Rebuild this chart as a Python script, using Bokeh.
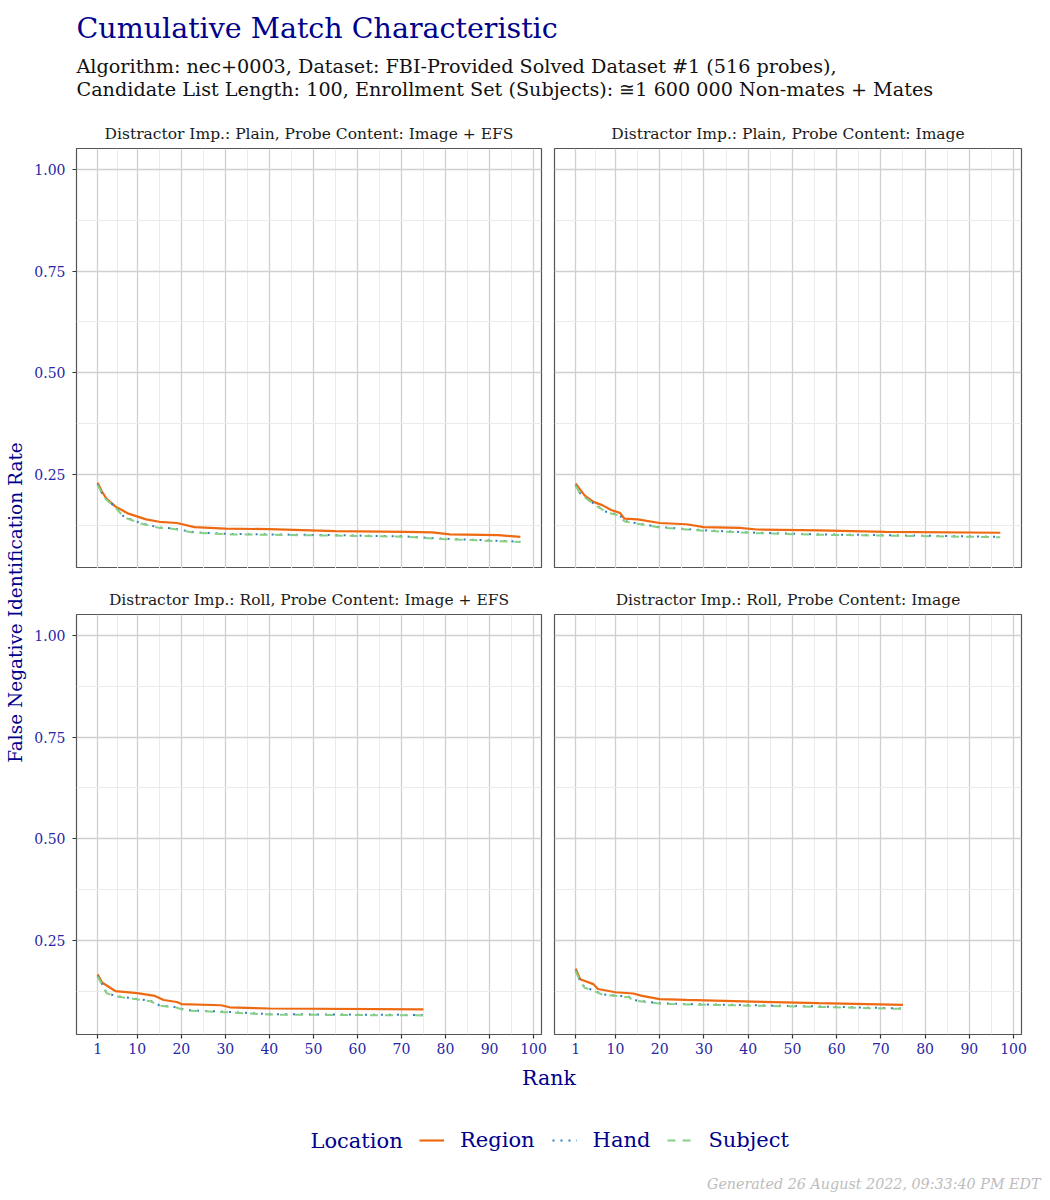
import math
from bokeh.plotting import figure
from bokeh.layouts import column, row
from bokeh.models import Range1d, FixedTicker, Legend, LegendItem, NumeralTickFormatter
from bokeh.embed import file_html
from bokeh.resources import INLINE
from bokeh.core.properties import value

# ---------------- data ----------------
series_names = ["Region", "Hand", "Subject"]
series_colors = ["#EE6A12", "#2C7FC6", "#86CF86"]
series_dashes = ["solid", "2 6", "8 7"]
series_widths = [2.2, 2.0, 2.0]

strip_labels = [
    "Distractor Imp.: Plain, Probe Content: Image + EFS",
    "Distractor Imp.: Plain, Probe Content: Image",
    "Distractor Imp.: Roll, Probe Content: Image + EFS",
    "Distractor Imp.: Roll, Probe Content: Image",
]

x_ticks = [1, 10, 20, 30, 40, 50, 60, 70, 80, 90, 100]
x_minor = [5.5, 15, 25, 35, 45, 55, 65, 75, 85, 95]
y_ticks = [0.25, 0.50, 0.75, 1.00]
y_minor = [0.125, 0.375, 0.625, 0.875]

# Plain, Image + EFS
tl_region_rank = [1, 2, 3, 5, 8, 12, 15, 19, 23, 30, 40, 55, 71, 77, 81, 92, 97]
tl_region_fnir = [0.229, 0.207, 0.190, 0.171, 0.153, 0.139, 0.133, 0.130, 0.120, 0.116, 0.115, 0.110, 0.108, 0.107, 0.102, 0.100, 0.096]
tl_hand_rank = [1, 2, 3, 5, 7, 11, 15, 18, 23, 27, 31, 40, 55, 71, 78, 88, 97]
tl_hand_fnir = [0.225, 0.203, 0.188, 0.170, 0.145, 0.129, 0.119, 0.117, 0.107, 0.105, 0.103, 0.102, 0.100, 0.097, 0.092, 0.088, 0.084]
tl_subject_rank = [1, 2, 3, 5, 7, 11, 15, 18, 23, 27, 31, 40, 55, 71, 78, 88, 97]
tl_subject_fnir = [0.224, 0.202, 0.187, 0.169, 0.144, 0.128, 0.118, 0.116, 0.106, 0.104, 0.102, 0.101, 0.099, 0.096, 0.091, 0.087, 0.083]

# Plain, Image
tr_region_rank = [1, 3, 5, 7, 9, 11, 12, 15, 20, 26, 30, 38, 42, 56, 71, 97]
tr_region_fnir = [0.227, 0.198, 0.182, 0.174, 0.162, 0.155, 0.141, 0.139, 0.130, 0.127, 0.120, 0.118, 0.114, 0.112, 0.108, 0.106]
tr_hand_rank = [1, 2, 5, 8, 11, 12, 15, 20, 30, 42, 56, 71, 97]
tr_hand_fnir = [0.223, 0.203, 0.178, 0.157, 0.149, 0.135, 0.129, 0.120, 0.112, 0.106, 0.102, 0.100, 0.096]
tr_subject_rank = [1, 2, 5, 8, 11, 12, 15, 20, 30, 42, 56, 71, 97]
tr_subject_fnir = [0.222, 0.202, 0.177, 0.156, 0.148, 0.134, 0.128, 0.119, 0.111, 0.105, 0.101, 0.099, 0.095]

# Roll, Image + EFS
bl_region_rank = [1, 2, 5, 10, 14, 16, 19, 20, 29, 31, 40, 75]
bl_region_fnir = [0.166, 0.146, 0.125, 0.120, 0.113, 0.103, 0.098, 0.093, 0.090, 0.085, 0.082, 0.080]
bl_hand_rank = [1, 2, 3, 5, 9, 13, 15, 19, 21, 30, 40, 75]
bl_hand_fnir = [0.162, 0.142, 0.121, 0.113, 0.107, 0.101, 0.090, 0.085, 0.078, 0.074, 0.068, 0.066]
bl_subject_rank = [1, 2, 3, 5, 9, 13, 15, 19, 21, 30, 40, 75]
bl_subject_fnir = [0.161, 0.141, 0.120, 0.112, 0.106, 0.100, 0.089, 0.084, 0.077, 0.073, 0.067, 0.065]

# Roll, Image
br_region_rank = [1, 2, 5, 6, 10, 14, 16, 20, 26, 41, 56, 75]
br_region_fnir = [0.180, 0.154, 0.142, 0.130, 0.122, 0.119, 0.113, 0.105, 0.103, 0.099, 0.095, 0.091]
br_hand_rank = [1, 2, 3, 5, 7, 13, 14, 20, 26, 41, 56, 75]
br_hand_fnir = [0.175, 0.150, 0.134, 0.127, 0.117, 0.111, 0.103, 0.095, 0.093, 0.090, 0.087, 0.082]
br_subject_rank = [1, 2, 3, 5, 7, 13, 14, 20, 26, 41, 56, 75]
br_subject_fnir = [0.174, 0.149, 0.133, 0.126, 0.116, 0.110, 0.102, 0.094, 0.092, 0.089, 0.086, 0.081]

panel_data = [
    [(tl_region_rank, tl_region_fnir), (tl_hand_rank, tl_hand_fnir), (tl_subject_rank, tl_subject_fnir)],
    [(tr_region_rank, tr_region_fnir), (tr_hand_rank, tr_hand_fnir), (tr_subject_rank, tr_subject_fnir)],
    [(bl_region_rank, bl_region_fnir), (bl_hand_rank, bl_hand_fnir), (bl_subject_rank, bl_subject_fnir)],
    [(br_region_rank, br_region_fnir), (br_hand_rank, br_hand_fnir), (br_subject_rank, br_subject_fnir)],
]

title_text = "Cumulative Match Characteristic"
subtitle_lines = [
    "Algorithm: nec+0003, Dataset: FBI-Provided Solved Dataset #1 (516 probes),",
    "Candidate List Length: 100, Enrollment Set (Subjects): \u22451 600 000 Non-mates + Mates",
]
x_title = "Rank"
y_title = "False Negative Identification Rate"
legend_title = "Location"
footer_text = "Generated 26 August 2022, 09:33:40 PM EDT"

# ---------------- style ----------------
FONT = "DejaVu Serif"
NAVY = "#00008B"
TICKBLUE = "#2626A6"
X_RANGE = (-3.8, 101.8)
Y_RANGE = (0.018, 1.052)


def blank(width, height):
    p = figure(width=width, height=height, title=None, output_backend="svg",
               toolbar_location=None, x_axis_location=None, y_axis_location=None,
               x_range=Range1d(0, width), y_range=Range1d(0, height),
               min_border=0, min_border_left=0, min_border_right=0,
               min_border_top=0, min_border_bottom=0)
    p.outline_line_color = None
    p.xgrid.visible = False
    p.ygrid.visible = False
    p.background_fill_color = None
    p.border_fill_color = None
    return p


def panel(idx, width, height, left, right, top, bottom, show_y, show_x):
    p = figure(width=width, height=height, output_backend="svg", toolbar_location=None,
               x_range=Range1d(*X_RANGE), y_range=Range1d(*Y_RANGE),
               x_axis_location="below" if show_x else None,
               y_axis_location="left" if show_y else None,
               min_border_left=left, min_border_right=right,
               min_border_top=top, min_border_bottom=bottom)
    p.title.text = strip_labels[idx]
    p.title.align = "center"
    p.title.text_font = FONT
    p.title.text_font_size = "15.5px"
    p.title.text_font_style = "normal"
    p.title.text_color = "#1a1a1a"
    p.title.standoff = 11
    p.outline_line_color = "#555555"
    p.outline_line_width = 1.2
    p.background_fill_color = "white"

    p.xgrid.ticker = FixedTicker(ticks=x_ticks, minor_ticks=x_minor)
    p.ygrid.ticker = FixedTicker(ticks=y_ticks, minor_ticks=y_minor)
    for g in (p.xgrid, p.ygrid):
        g.grid_line_color = "#d0d0d0"
        g.grid_line_width = 1.3
        g.minor_grid_line_color = "#ebebeb"
        g.minor_grid_line_width = 1.0

    if show_y:
        ax = p.yaxis[0]
        ax.ticker = FixedTicker(ticks=y_ticks)
        ax.formatter = NumeralTickFormatter(format="0.00")
        ax.major_label_standoff = 7
    if show_x:
        ax = p.xaxis[0]
        ax.ticker = FixedTicker(ticks=x_ticks)
        ax.major_label_standoff = 4
    for ax in p.axis:
        ax.axis_line_color = None
        ax.major_tick_line_color = "#333333"
        ax.major_tick_line_width = 1.2
        ax.major_tick_out = 4
        ax.major_tick_in = 0
        ax.minor_tick_line_color = None
        ax.major_label_text_font = FONT
        ax.major_label_text_font_size = "14px"
        ax.major_label_text_color = TICKBLUE

    for (xs, ys), c, d, w in zip(panel_data[idx], series_colors, series_dashes, series_widths):
        p.line(x=xs, y=ys, line_color=c, line_dash=d, line_width=w)
    return p


# ---------------- layout ----------------
HEADER_H = 112
TOP_H = 456
BOT_H = 496
YLAB_W = 30

header = blank(1050, HEADER_H)
header.text(x=[76], y=[HEADER_H - 28], text=[title_text], text_font=value(FONT),
            text_font_size=value("28.5px"), text_color=NAVY, text_baseline="middle",
            text_align="left")
header.text(x=[76, 76], y=[HEADER_H - 66, HEADER_H - 89], text=subtitle_lines,
            text_font=value(FONT), text_font_size=value("19.2px"), text_color="#111111",
            text_baseline="middle", text_align="left")

tl = panel(0, 517, TOP_H, 46, 6, 36, 0, True, False)
tr = panel(1, 503, TOP_H, 7, 29, 36, 0, False, False)
bl = panel(2, 517, BOT_H, 46, 6, 46, 30, True, True)
br = panel(3, 503, BOT_H, 7, 29, 46, 30, False, True)

ylab = blank(YLAB_W, TOP_H + BOT_H)
ylab.text(x=[15], y=[TOP_H + BOT_H - 490], text=[y_title], angle=math.pi / 2,
          text_font=value(FONT), text_font_size=value("18.5px"), text_color=NAVY,
          text_align="center", text_baseline="middle")

FOOT_H = 1200 - HEADER_H - TOP_H - BOT_H
foot = blank(1050, FOOT_H)
foot.text(x=[548.5], y=[FOOT_H - 13], text=[x_title], text_font=value(FONT),
          text_font_size=value("20.5px"), text_color=NAVY, text_align="center",
          text_baseline="middle")
foot.text(x=[310], y=[FOOT_H - 76], text=[legend_title], text_font=value(FONT),
          text_font_size=value("21px"), text_color=NAVY, text_align="left",
          text_baseline="middle")
foot.text(x=[1040], y=[FOOT_H - 119], text=[footer_text], text_font=value(FONT),
          text_font_size=value("14.3px"), text_font_style="italic", text_color="#bdbdbd",
          text_align="right", text_baseline="middle")

items = []
for n, c, d, w in zip(series_names, series_colors, series_dashes, series_widths):
    r = foot.line(x=[float("nan"), float("nan")], y=[float("nan"), float("nan")],
                  line_color=c, line_dash=d, line_width=w)
    items.append(LegendItem(label=n, renderers=[r]))
leg = Legend(items=items, orientation="horizontal", location=(419, FOOT_H - 76 - 13),
             label_text_font=FONT, label_text_font_size="21px", label_text_color=NAVY,
             glyph_width=25, glyph_height=26, label_standoff=16, spacing=17,
             padding=0, margin=0, border_line_color=None, background_fill_alpha=0,
             label_height=26)
foot.add_layout(leg, "center")

layout = column(header,
                row(ylab, column(row(tl, tr), row(bl, br))),
                foot)

open("out.html", "w").write(file_html(layout, INLINE))
